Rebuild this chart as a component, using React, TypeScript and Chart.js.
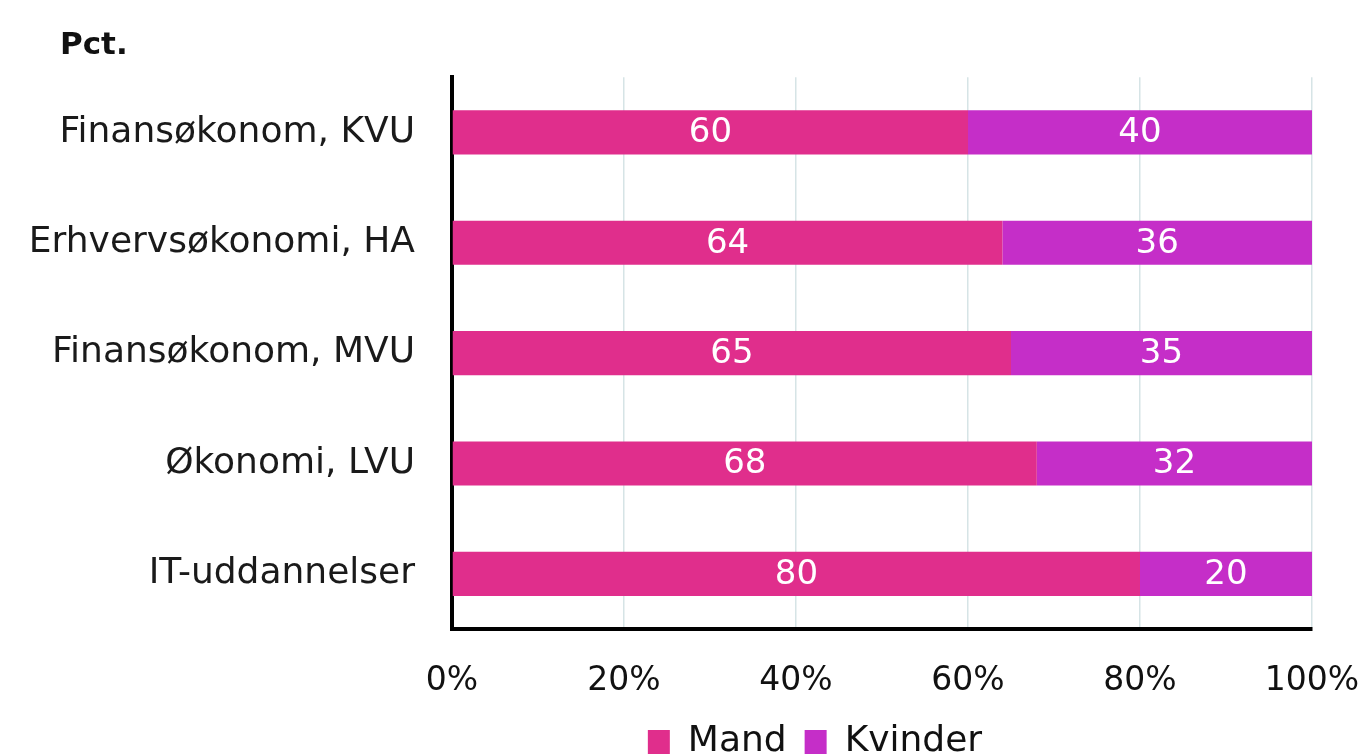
import React, { useEffect, useRef } from "react";
import { Chart, registerables } from "chart.js";

Chart.register(...registerables);

const categories = [
  "Finansøkonom, KVU",
  "Erhvervsøkonomi, HA",
  "Finansøkonom, MVU",
  "Økonomi, LVU",
  "IT-uddannelser",
];
const mand = [60, 64, 65, 68, 80];
const kvinder = [40, 36, 35, 32, 20];
const seriesNames = ["Mand", "Kvinder"];
const xTicks = [0, 20, 40, 60, 80, 100];
const titleText = "Pct.";

const FONT = "'DejaVu Sans', sans-serif";

const shiftPlugin = {
  id: "shiftBoxes",
  afterLayout(chart: any) {
    const lg = chart.legend;
    if (lg) {
      const dx = 815 - (lg.left + lg.right) / 2;
      lg.left += dx;
      lg.right += dx;
      const dy = 738 - (lg.top + lg.bottom) / 2;
      lg.top += dy;
      lg.bottom += dy;
    }
    const t = chart.titleBlock;
    if (t) {
      const d = 60 - t.left;
      t.left += d;
      t.right += d;
    }
  },
};

const valueLabels = {
  id: "valueLabels",
  afterDatasetsDraw(chart: any) {
    const ctx = chart.ctx;
    ctx.save();
    ctx.fillStyle = "#ffffff";
    ctx.font = `34px ${FONT}`;
    ctx.textAlign = "center";
    ctx.textBaseline = "middle";
    chart.data.datasets.forEach((ds: any, i: number) => {
      const meta = chart.getDatasetMeta(i);
      meta.data.forEach((bar: any, j: number) => {
        const p = bar.getProps(["x", "y", "base"], true);
        ctx.fillText(String(ds.data[j]), (p.x + p.base) / 2, p.y + 1);
      });
    });
    ctx.restore();
  },
};

export default function App() {
  const ref = useRef<HTMLCanvasElement>(null);
  useEffect(() => {
    if (!ref.current) return;
    const chart = new Chart(ref.current, {
      type: "bar",
      data: {
        labels: categories,
        datasets: [
          { label: seriesNames[0], data: mand, backgroundColor: "#E02E8C", borderWidth: 0 },
          { label: seriesNames[1], data: kvinder, backgroundColor: "#C52EC8", borderWidth: 0 },
        ],
      },
      options: {
        indexAxis: "y",
        animation: false,
        responsive: false,
        maintainAspectRatio: false,
        layout: { padding: { left: 0, right: 0, top: 0, bottom: -8 } },
        datasets: { bar: { barPercentage: 0.4, categoryPercentage: 1 } } as any,
        scales: {
          x: {
            stacked: true,
            min: 0,
            max: 100,
            afterBuildTicks: (axis: any) => {
              axis.ticks = xTicks.map((v) => ({ value: v }));
            },
            afterFit: (axis: any) => {
              axis.height = 69;
              axis.paddingRight = 50;
              axis.paddingLeft = 0;
            },
            ticks: {
              callback: (v: any) => v + "%",
              color: "#111",
              font: { family: FONT, size: 33, lineHeight: 1 },
              padding: 36,
            },
            grid: { color: "#d6e4e6", lineWidth: 1.5, drawTicks: false },
            border: { color: "#000", width: 4 },
          },
          y: {
            stacked: true,
            afterFit: (axis: any) => {
              axis.width = 452;
            },
            ticks: {
              color: "#1a1a1a",
              font: { family: FONT, size: 36 },
              padding: 37,
            },
            grid: { display: false, drawTicks: false },
            border: { color: "#000", width: 4 },
          },
        },
        plugins: {
          title: {
            display: true,
            text: titleText,
            align: "start",
            color: "#111",
            font: { family: FONT, size: 31, weight: "bold" },
            padding: { top: 27, bottom: 13 },
          },
          legend: {
            position: "bottom",
            labels: {
              color: "#111",
              font: { family: FONT, size: 36 },
              boxWidth: 22,
              boxHeight: 24,
              padding: 18,
            },
          },
          tooltip: { enabled: false },
        },
      },
      plugins: [shiftPlugin, valueLabels],
    });
    return () => chart.destroy();
  }, []);
  return (
    <div style={{ position: "fixed", left: 0, top: 0, width: 1362, height: 754, background: "#fff" }}>
      <canvas ref={ref} width={1362} height={754} style={{ width: 1362, height: 754 }} />
    </div>
  );
}
